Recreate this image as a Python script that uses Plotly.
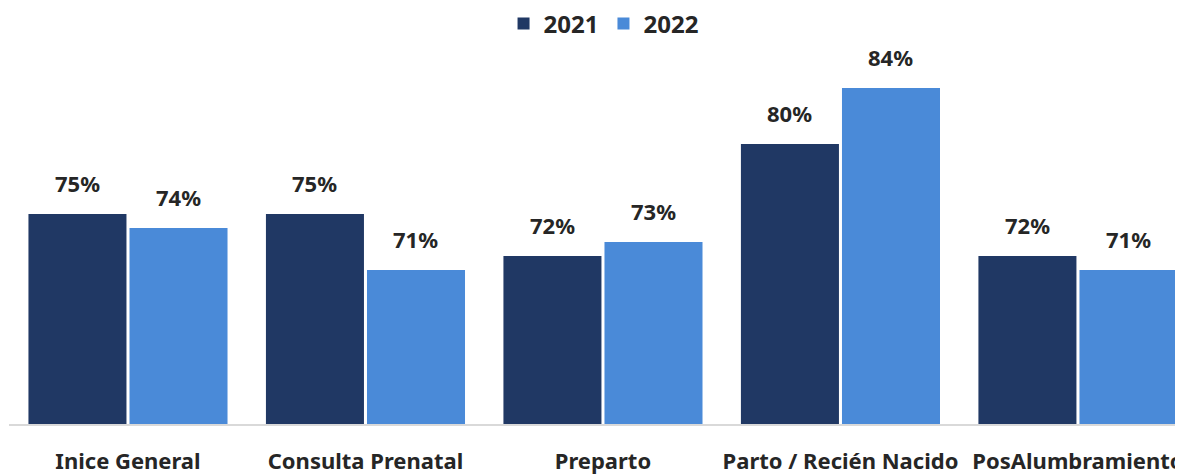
import plotly.graph_objects as go

# data
categories = ["Inice General", "Consulta Prenatal", "Preparto",
              "Parto / Recién Nacido", "PosAlumbramiento"]
values_2021 = [75, 75, 72, 80, 72]
values_2022 = [74, 71, 73, 84, 71]

DARK = "#203864"
LIGHT = "#4A8AD8"
FONT = "Noto Sans, sans-serif"
TEXT = "#262626"

fig = go.Figure()
for name, vals, color in [("2021", values_2021, DARK), ("2022", values_2022, LIGHT)]:
    fig.add_trace(go.Bar(
        x=categories, y=vals, name=f"<b>{name}</b>",
        marker=dict(color=color, line=dict(width=0)),
        cliponaxis=False,
    ))

# value labels sit a bit higher above the bars than plotly's default "outside" text
for vals, shift in [(values_2021, -50.5), (values_2022, 50.5)]:
    for cat, v in zip(categories, vals):
        fig.add_annotation(x=cat, y=v, text=f"<b>{v}%</b>", showarrow=False,
                           xshift=shift, yshift=14, yanchor="bottom",
                           font=dict(size=22, color=TEXT, family=FONT))

# page body has an 8px margin, so the figure is nudged up/left to compensate
fig.update_layout(
    width=1183, height=474,
    margin=dict(l=1, r=0, t=0, b=58, autoexpand=False),
    plot_bgcolor="white", paper_bgcolor="white",
    barmode="group", bargap=0.149, bargroupgap=0.03,
    font=dict(family=FONT, color=TEXT),
    legend=dict(orientation="h", x=0.503, xanchor="center", y=0.962, yanchor="middle",
                font=dict(size=24, color=TEXT), itemwidth=30,
                traceorder="normal", bgcolor="rgba(0,0,0,0)"),
    showlegend=True,
)
fig.update_xaxes(range=[-0.501, 4.476], showline=True, linecolor="#D9D9D9", linewidth=2,
                 ticks="", ticklabelstandoff=17, automargin=False,
                 tickfont=dict(size=22, color=TEXT, family=FONT),
                 tickvals=categories, ticktext=[f"<b>{c}</b>" for c in categories])
fig.update_yaxes(range=[60, 89.71], visible=False, showgrid=False, automargin=False)

fig.write_html("out.html")
